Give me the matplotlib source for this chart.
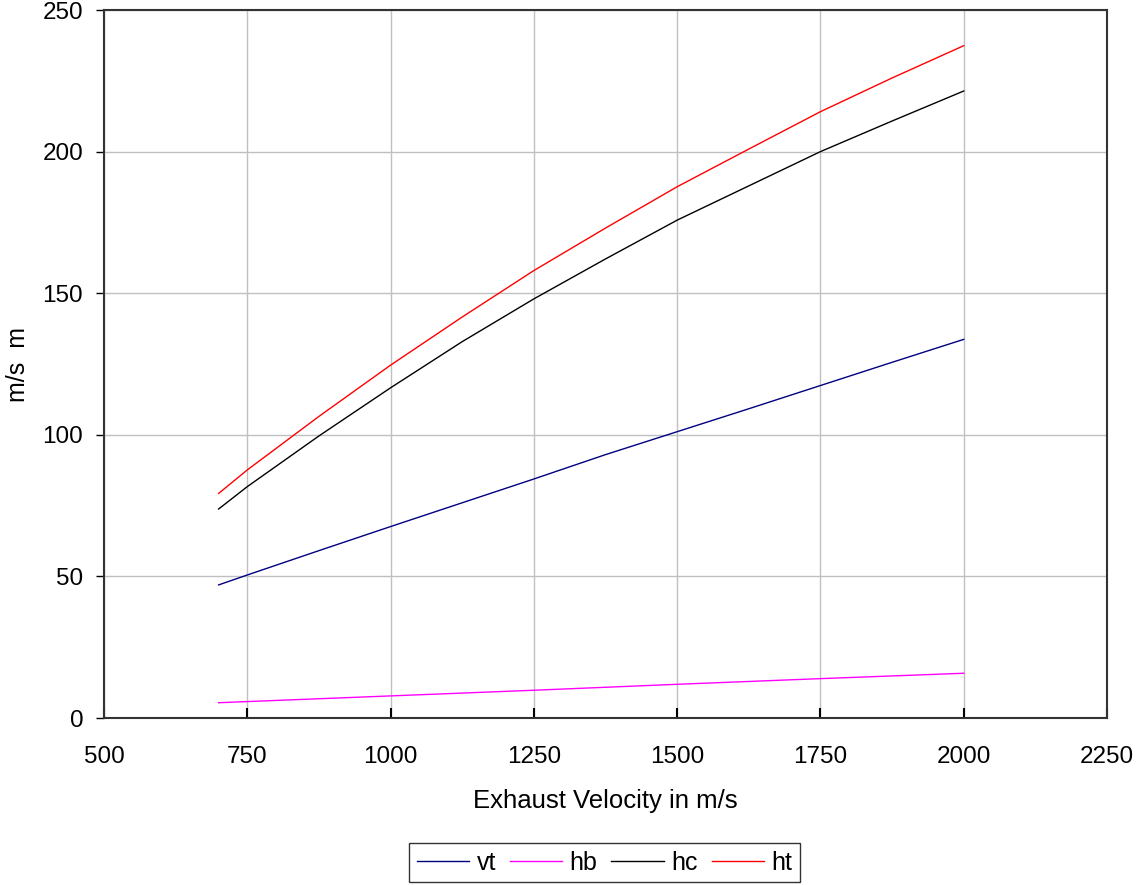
import matplotlib
matplotlib.use("Agg")
import matplotlib.pyplot as plt

plt.rcParams['font.family'] = ['Liberation Sans', 'DejaVu Sans']

# exhaust velocity (m/s)
ve = [700, 750, 875, 1000, 1125, 1250, 1375, 1500, 1625, 1750, 1875, 2000]

# values
vt = [47.0, 50.5, 59.1, 67.6, 76.0, 84.4, 93.0, 101.1, 109.2, 117.4, 125.6, 133.7]
hc = [73.8, 81.7, 99.6, 116.6, 132.9, 148.0, 162.1, 175.8, 187.9, 200.0, 210.8, 221.4]
ht = [79.3, 87.6, 106.5, 124.6, 141.6, 158.0, 173.0, 187.6, 200.9, 214.1, 226.0, 237.4]

ve_hb = [700, 750, 1000, 1250, 1500, 1750, 2000]
hb = [5.4, 5.8, 7.8, 9.8, 11.9, 13.9, 15.8]

fig = plt.figure(figsize=(11.38, 8.85), dpi=100)
ax = fig.add_axes([0.0914, 0.1887, 0.8814, 0.8000])

ax.plot(ve, vt, color='#000080', lw=1, label='vt')
ax.plot(ve_hb, hb, color='#ff00ff', lw=1, label='hb')
ax.plot(ve, hc, color='black', lw=1, label='hc')
ax.plot(ve, ht, color='red', lw=1, label='ht')

ax.set_xlim(500, 2250)
ax.set_ylim(0, 250)
ax.set_xticks(range(500, 2251, 250))
ax.set_yticks(range(0, 251, 50))
ax.grid(True, color='#c0c0c0', lw=1)
ax.set_axisbelow(True)

for s in ax.spines.values():
    s.set_color('#333333')
    s.set_linewidth(1.5)

ax.tick_params(axis='x', direction='in', length=7, width=1.5, labelsize=17.5, pad=20)
ax.tick_params(axis='y', direction='out', length=6, width=1, labelsize=17.5, pad=9)

ax.set_xlabel('Exhaust Velocity in m/s', fontsize=18.5)
ax.xaxis.set_label_coords(0.5, -0.1)
ax.set_ylabel('m/s  m', fontsize=18)
ax.yaxis.set_label_coords(-0.0738, 0.5)

leg = fig.legend(loc='center', bbox_to_anchor=(0.5312, 0.0254), ncol=4, fontsize=18,
                 frameon=True, fancybox=False, edgecolor='black', handlelength=2.1,
                 columnspacing=0.55, handletextpad=0.3, borderpad=0.3, borderaxespad=0)
leg.get_frame().set_linewidth(1.0)

fig.savefig('out.png', dpi=100)
